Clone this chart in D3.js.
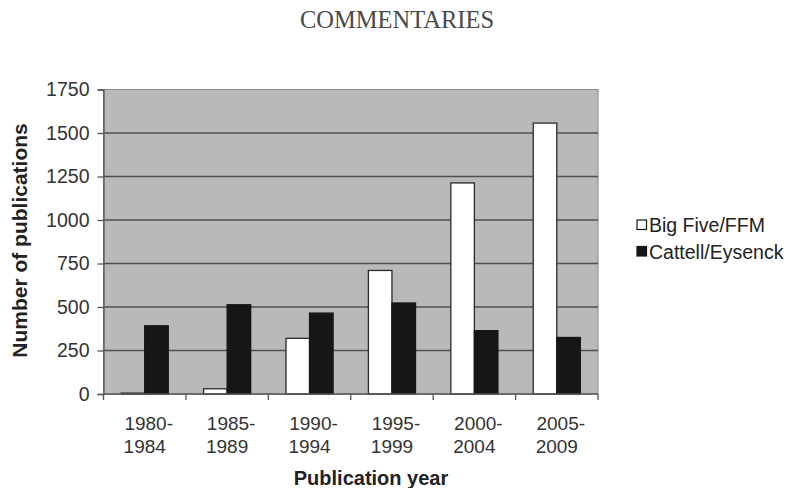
<!DOCTYPE html>
<html>
<head>
<meta charset="utf-8">
<script src="https://cdn.jsdelivr.net/npm/d3@7"></script>
<style>
  html, body { margin: 0; padding: 0; background: #fff; }
  svg { display: block; }
</style>
</head>
<body>
<svg id="chart" width="785" height="488"></svg>
<script>
// Publication counts per five-year period
const periods = [["1980-", "1984"], ["1985-", "1989"], ["1990-", "1994"],
                 ["1995-", "1999"], ["2000-", "2004"], ["2005-", "2009"]];
const seriesNames = ["Big Five/FFM", "Cattell/Eysenck"];
const bigFive = [5, 30, 320, 710, 1213, 1557];
const cattellEysenck = [392, 513, 465, 523, 364, 325];
const yTicks = [0, 250, 500, 750, 1000, 1250, 1500, 1750];

const svg = d3.select("#chart");
const plot = { left: 103.5, right: 598, top: 89.5, bottom: 394 };
const sans = "'Liberation Sans', Arial, sans-serif";

// Running header
svg.append("text")
  .attr("x", 397).attr("y", 28)
  .attr("text-anchor", "middle")
  .attr("font-family", "'Liberation Serif', 'Times New Roman', serif")
  .attr("font-size", 24.5)
  .attr("fill", "#4a4a4a")
  .text("COMMENTARIES");

const keys = periods.map(p => p.join(""));
const x = d3.scaleBand().domain(keys).range([plot.left, plot.right]).padding(0);
const barW = x.bandwidth() / 3.5;           // two bars + 150% gap
const y = d3.scaleLinear().domain([0, 1750]).range([plot.bottom, plot.top]);

// Plot area
svg.append("rect")
  .attr("x", plot.left).attr("y", plot.top)
  .attr("width", plot.right - plot.left).attr("height", plot.bottom - plot.top)
  .attr("fill", "#b9b9b9").attr("stroke", "#8a8a8a").attr("stroke-width", 1);

// Horizontal gridlines
svg.append("g").selectAll("line")
  .data(yTicks.filter(t => t > 0 && t < 1750))
  .join("line")
  .attr("x1", plot.left).attr("x2", plot.right)
  .attr("y1", d => y(d)).attr("y2", d => y(d))
  .attr("stroke", "#505050").attr("stroke-width", 1.4);

// Bars
const rows = keys.map((k, i) => ({ key: k, values: [bigFive[i], cattellEysenck[i]] }));
const groups = svg.append("g").selectAll("g")
  .data(rows).join("g")
  .attr("transform", d => `translate(${x(d.key) + (x.bandwidth() - 2 * barW) / 2},0)`);

groups.selectAll("rect")
  .data(d => d.values.map((v, j) => ({ v, j })))
  .join("rect")
  .attr("x", d => d.j * barW)
  .attr("y", d => y(d.v))
  .attr("width", barW)
  .attr("height", d => y(0) - y(d.v))
  .attr("fill", d => d.j === 0 ? "#ffffff" : "#161616")
  .attr("stroke", d => d.j === 0 ? "#2a2a2a" : "#161616")
  .attr("stroke-width", 1.3);

// Y axis
const yAxis = d3.axisLeft(y).tickValues(yTicks).tickFormat(d3.format("d"))
  .tickSize(6).tickPadding(8);
const gy = svg.append("g").attr("transform", `translate(${plot.left},0)`).call(yAxis);
gy.select(".domain").attr("stroke", "#555").attr("stroke-width", 1.3);
gy.selectAll(".tick line").attr("stroke", "#555").attr("stroke-width", 1.3);
gy.selectAll(".tick text")
  .attr("font-family", sans).attr("font-size", 19.5).attr("fill", "#333");

// X axis: ticks sit on the category boundaries
const gx = svg.append("g").attr("transform", `translate(0,${plot.bottom})`);
gx.append("line")
  .attr("x1", plot.left).attr("x2", plot.right)
  .attr("stroke", "#555").attr("stroke-width", 1.3);
const bounds = keys.map(k => x(k)).concat([plot.right]);
gx.selectAll("line.tick").data(bounds).join("line")
  .attr("class", "tick")
  .attr("x1", d => d).attr("x2", d => d)
  .attr("y1", 0).attr("y2", 6)
  .attr("stroke", "#555").attr("stroke-width", 1.3);

const labels = gx.selectAll("text.cat").data(periods).join("text")
  .attr("class", "cat")
  .attr("font-family", sans).attr("font-size", 19).attr("fill", "#333")
  .attr("text-anchor", "middle");
labels.each(function (d, i) {
  const t = d3.select(this);
  const cx = x(keys[i]) + x.bandwidth() / 2;
  t.append("tspan").attr("x", cx + 4).attr("y", 36).text(d[0]);
  t.append("tspan").attr("x", cx).attr("y", 59).text(d[1]);
});

// Axis titles
svg.append("text")
  .attr("x", 371).attr("y", 485)
  .attr("text-anchor", "middle")
  .attr("font-family", sans).attr("font-weight", "bold").attr("font-size", 20)
  .attr("fill", "#222")
  .text("Publication year");

svg.append("text")
  .attr("transform", "translate(27,240.5) rotate(-90)")
  .attr("text-anchor", "middle")
  .attr("font-family", sans).attr("font-weight", "bold").attr("font-size", 21)
  .attr("fill", "#222")
  .text("Number of publications");

// Legend
const legend = svg.append("g").attr("transform", "translate(637,220)");
const items = legend.selectAll("g").data(seriesNames).join("g")
  .attr("transform", (d, i) => `translate(0,${i * 26.5})`);
items.append("rect")
  .attr("width", 9.5).attr("height", 9.5)
  .attr("fill", (d, i) => i === 0 ? "#fff" : "#161616")
  .attr("stroke", "#161616").attr("stroke-width", 1.2);
items.append("text")
  .attr("x", 12).attr("y", 5)
  .attr("dominant-baseline", "central")
  .attr("font-family", sans).attr("font-size", 19.5).attr("fill", "#222")
  .text(d => d);
</script>
</body>
</html>
